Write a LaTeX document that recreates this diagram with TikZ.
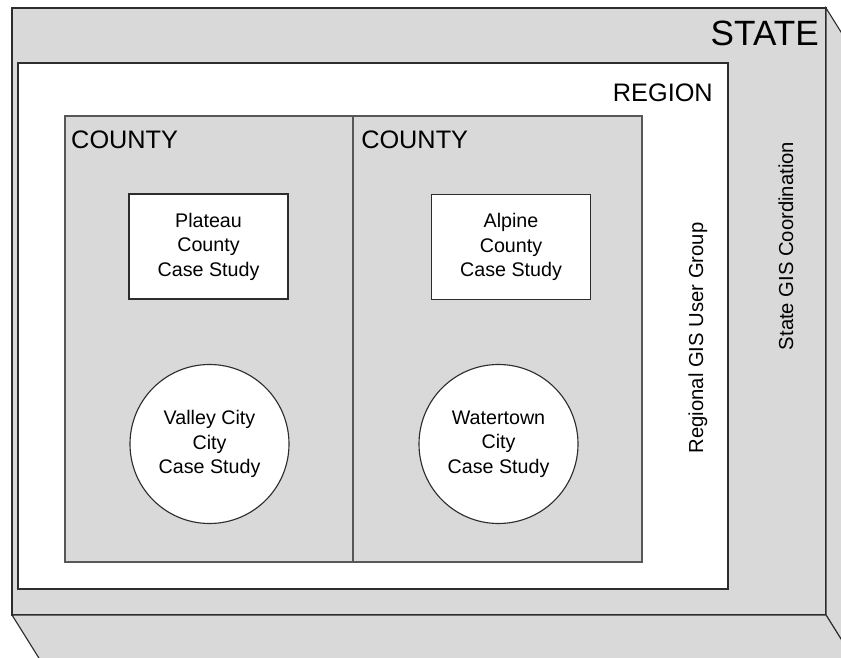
\documentclass[tikz,border=0pt]{standalone}
\usepackage{fontspec}
\setmainfont{Liberation Sans}
\usetikzlibrary{positioning}
\tikzset{every picture/.style={line width=0.8pt}}
\definecolor{panel}{RGB}{217,217,217}
\definecolor{edge}{RGB}{45,45,45}

\begin{document}
\begin{tikzpicture}[
    box/.style={rectangle, draw=edge, inner sep=0pt, outer sep=0pt, anchor=north west},
    casebox/.style={rectangle, draw=edge, fill=white, minimum width=3.975cm, minimum height=2.625cm, align=center, font=\fontsize{14}{17.4}\selectfont},
    casecircle/.style={circle, draw=edge, fill=white, minimum size=3.975cm, inner sep=0pt, align=center, font=\fontsize{14}{17.4}\selectfont},
    level/.style={anchor=base east, font=\fontsize{18}{20}\selectfont},
    side/.style={rotate=90, anchor=base, font=\fontsize{14.4}{17}\selectfont}]
        \useasboundingbox (0,0) rectangle (21.025,16.425);
        \clip (0,0) rectangle (21.025,16.425);
        % estado: cara frontal y caras laterales
        \node[box, fill=panel, minimum width=20.35cm, minimum height=15.175cm] (state) at (0.3,16.225) {};
        \filldraw[draw=edge, fill=panel] (state.north east) -- ++(1,-1.6) -- ++(0,-15.175) -- (state.south east) -- cycle;
        \filldraw[draw=edge, fill=panel] (state.south west) -- (state.south east) -- ++(1,-1.6) -- ++(-20.35,0) -- cycle;
        % region
        \node[box, fill=white, minimum width=17.75cm, minimum height=13.15cm] (region) at (0.45,14.85) {};
        % condados
        \node[box, fill=panel, draw=edge!80, minimum width=7.2cm, minimum height=11.15cm] (countyL) at (1.625,13.525) {};
        \node[box, fill=panel, draw=edge!80, minimum width=7.225cm, minimum height=11.15cm] (countyR) at (countyL.north east) {};
        % casos de estudio
        \node[casebox] (plateau) at (5.2125,10.2625) {Plateau\\County\\Case Study};
        \node[casebox] (alpine) at (12.775,10.25) {Alpine\\County\\Case Study};
        \node[casecircle] (valley) at (5.2375,5.325) {Valley City\\City\\Case Study};
        \node[casecircle] (watertown) at (12.4625,5.325) {Watertown\\City\\Case Study};
        % rotulos
        \node[level, font=\fontsize{25}{27}\selectfont] (stateLbl) at (20.6,15.275) {STATE};
        \node[level] (regionLbl) at (17.95,13.875) {REGION};
        \node[level, anchor=base west] (countyLLbl) at (1.65,12.7) {COUNTY};
        \node[level, anchor=base west] (countyRLbl) at (8.9,12.7) {COUNTY};
        \node[side] (regionalGrp) at (17.575,7.975) {Regional GIS User Group};
        \node[side] (stateCoord) at (19.825,10.275) {State GIS Coordination};
    \end{tikzpicture}
\end{document}
